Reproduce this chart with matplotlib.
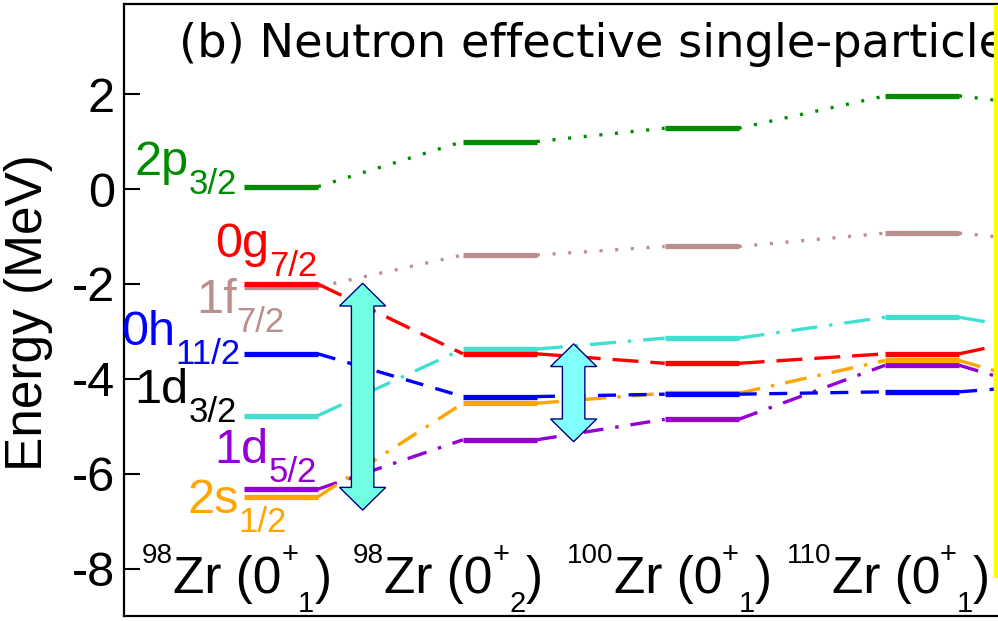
import matplotlib
matplotlib.use('Agg')
import matplotlib.pyplot as plt
from matplotlib.patches import Polygon, Rectangle
from matplotlib.transforms import offset_copy

plt.rcParams['font.family'] = 'Liberation Sans'
plt.rcParams['axes.unicode_minus'] = False
plt.rcParams['lines.scale_dashes'] = False

# configurations along x: (mass number, 0+ state index)
mass = ['98', '98', '100', '110']
state = ['1', '2', '1', '1']
col_x = [1.0, 1.995, 2.912, 3.914, 4.914]   # fifth column lies past the edge
half_w = 0.168

# effective single-particle energies (MeV), one value per column
e_2p32 = [0.05, 1.00, 1.28, 1.96, 1.60]
e_0g72 = [-2.00, -3.47, -3.67, -3.47, -2.82]
e_1f72 = [-2.06, -1.39, -1.21, -0.93, -1.22]
e_0h112 = [-3.47, -4.37, -4.32, -4.27, -4.04]
e_1d32 = [-4.77, -3.37, -3.14, -2.70, -3.22]
e_1d52 = [-6.32, -5.28, -4.85, -3.71, -4.63]
e_2s12 = [-6.48, -4.51, -4.30, -3.61, -4.50]

# shell gap arrows: x position, upper and lower ends (MeV)
gap_x = [1.371, 2.330]
gap_top = [-1.985, -3.26]
gap_bot = [-6.76, -5.32]
gap_fc = ['#70ffe2', '#80ffff']

dotted = (0, (2.2, 9.1))
orbits = [
    # main, sub, energies, line colour, label colour, connector, zorder, label x, label y
    ('2p', '3/2', e_2p32, '#008c00', '#008c00', dotted, 2, 0.800, 0.295),
    ('1f', '7/2', e_1f72, '#bc8f8f', '#bc8f8f', dotted, 2, 1.018, -2.611),
    ('1d', '5/2', e_1d52, '#9400d3', '#9400d3', (0, (14.4, 8.6, 2.5, 8.6)), 3, 1.164, -5.768),
    ('2s', '1/2', e_2s12, '#ffa500', '#ffa500', (0, (15.8, 8.0, 2.5, 8.0)), 4, 1.027, -6.821),
    ('1d', '3/2', e_1d32, '#40e0d0', 'black', (0, (18.7, 8.6, 2.5, 8.6)), 5, 0.800, -4.505),
    ('0g', '7/2', e_0g72, '#ff0000', '#ff0000', (0, (18.7, 8.6)), 6, 1.164, -1.432),
    ('0h', '11/2', e_0h112, '#0000ff', '#0000ff', (0, (13.0, 9.0)), 7, 0.814, -3.284),
]


def chained_text(ax, x, y, pieces, align='left'):
    # lay out text pieces (string, size, raise in pt, colour) one after another
    fig = ax.figure
    renderer = fig.canvas.get_renderer()
    items = []
    for s, size, dy, color in pieces:
        t = ax.text(x, y, s, fontsize=size, color=color, ha='left',
                    va='baseline', zorder=12)
        w = t.get_window_extent(renderer).width * 72 / fig.dpi
        items.append((t, dy, w))
    pos = -sum(w for _, _, w in items) if align == 'right' else 0.0
    for t, dy, w in items:
        t.set_transform(offset_copy(ax.transData, fig=fig, x=pos, y=dy,
                                    units='points'))
        pos += w


def double_arrow(ax, x, top, bot, fc):
    hw_head, hw_shaft, head = 0.105, 0.051, 0.478
    pts = [(x, top), (x + hw_head, top - head), (x + hw_shaft, top - head),
           (x + hw_shaft, bot + head), (x + hw_head, bot + head), (x, bot),
           (x - hw_head, bot + head), (x - hw_shaft, bot + head),
           (x - hw_shaft, top - head), (x - hw_head, top - head)]
    ax.add_patch(Polygon(pts, closed=True, fc=fc, ec='#000080', lw=1.0,
                         joinstyle='miter', zorder=10))


fig = plt.figure(figsize=(9.98, 6.21), dpi=100)
ax = fig.add_axes([124 / 998, 5 / 621, 1076 / 998, 612 / 621])
ax.set_xlim(0.2864, 5.177)
ax.set_ylim(-8.99, 3.895)

for main, sub, en, color, lcolor, ls, z, lx, ly in orbits:
    for i in range(len(col_x)):
        ax.plot([col_x[i] - half_w, col_x[i] + half_w], [en[i], en[i]],
                color=color, lw=3.8, solid_capstyle='butt', zorder=z)
        if i + 1 < len(col_x):
            ax.plot([col_x[i] + half_w, col_x[i + 1] - half_w], [en[i], en[i + 1]],
                    color=color, lw=2.4, linestyle=ls, dash_capstyle='butt', zorder=z)
    chained_text(ax, lx, ly, [(main, 35, 0, lcolor), (sub, 25, -14, lcolor)],
                 align='right')

for x, top, bot, fc in zip(gap_x, gap_top, gap_bot, gap_fc):
    double_arrow(ax, x, top, bot, fc)

# configuration names under the levels
label_x = [0.368, 1.327, 2.300, 3.300]
for x, a, k in zip(label_x, mass, state):
    chained_text(ax, x, -8.505, [(a, 20, 21.6, 'black'),
                                 ('Zr (0', 37, 0, 'black'),
                                 ('+', 21, 21.6, 'black'),
                                 (k, 21, -13.7, 'black'),
                                 (')', 37, 0, 'black')])

ax.set_xticks([])
ax.set_yticks([-8, -6, -4, -2, 0, 2])
ax.tick_params(axis='y', direction='in', length=11.5, width=1.5,
               labelsize=35, pad=6.5)
for sp in ax.spines.values():
    sp.set_linewidth(1.6)
ax.set_ylabel('Energy (MeV)', fontsize=37, va='baseline')
ax.yaxis.set_label_coords((42 - 124) / 1076, (616 - 313) / 612)

fig.text(179 / 998, 1 - 57 / 621, '(b) Neutron effective single-particle',
         fontsize=33.4, family='DejaVu Sans', va='baseline')

fig.add_artist(Rectangle((994 / 998, 44 / 621), 5 / 998, 572 / 621,
                         transform=fig.transFigure, color='#ffff00', zorder=20))

fig.savefig('out.png', dpi=100)
